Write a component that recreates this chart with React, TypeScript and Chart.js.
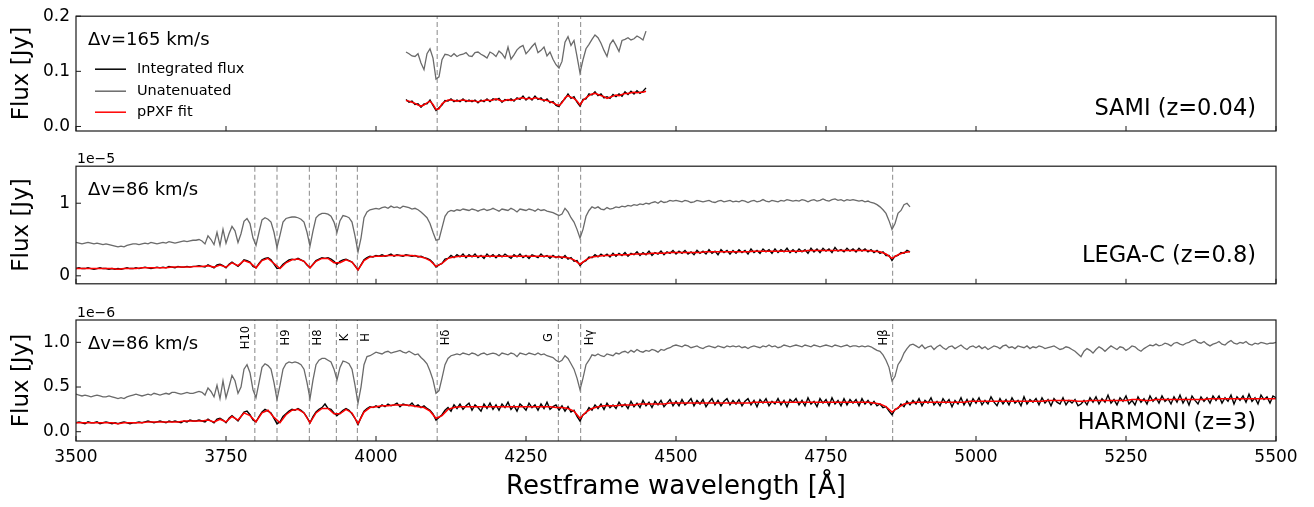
import React, { useEffect, useRef } from "react";
import { Chart, registerables } from "chart.js";

Chart.register(...registerables);

const FONT = "'DejaVu Sans', 'Liberation Sans', sans-serif";

// ---------- shared axis ----------
const X_MIN = 3500;
const X_MAX = 5500;
const X_TICKS = [3500, 3750, 4000, 4250, 4500, 4750, 5000, 5250, 5500];
const X_TITLE = "Restframe wavelength [Å]";
const Y_TITLE = "Flux [Jy]";

// ---------- spectral features (Å) ----------
const SAMI_FEATURES = [4102, 4304, 4341];
const FEATURES = [3798, 3835, 3889, 3934, 3969, 4102, 4304, 4341, 4861];
const FEATURE_NAMES = ["H10", "H9", "H8", "K", "H", "Hδ", "G", "Hγ", "Hβ"];

const LEGEND_LABELS = ["Integrated flux", "Unatenuated", "pPXF fit"];

// ---------- SAMI (z=0.04), Jy, 5 Å sampling from 4050 Å ----------
const SAMI_START = 4050;
const SAMI_STEP = 5;
const samiUnattenuated = [
  0.135, 0.132, 0.128, 0.127, 0.132, 0.115, 0.103, 0.132, 0.141, 0.124, 0.086, 0.090, 0.121, 0.131, 0.130, 0.127, 0.132, 0.127, 0.130, 0.131,
  0.134, 0.128, 0.127, 0.134, 0.135, 0.131, 0.128, 0.124, 0.135, 0.132, 0.127, 0.137, 0.132, 0.124, 0.144, 0.122, 0.130, 0.139, 0.144, 0.147,
  0.132, 0.138, 0.145, 0.151, 0.134, 0.138, 0.144, 0.128, 0.135, 0.122, 0.112, 0.106, 0.118, 0.153, 0.163, 0.147, 0.156, 0.127, 0.097, 0.121,
  0.141, 0.149, 0.158, 0.166, 0.161, 0.151, 0.138, 0.127, 0.149, 0.157, 0.147, 0.136, 0.156, 0.158, 0.161, 0.157, 0.159, 0.164, 0.161, 0.157,
  0.173,
];
const samiFlux = [
  0.049, 0.044, 0.046, 0.040, 0.041, 0.035, 0.041, 0.041, 0.048, 0.038, 0.029, 0.034, 0.039, 0.047, 0.046, 0.050, 0.045, 0.048, 0.045, 0.050,
  0.045, 0.048, 0.045, 0.048, 0.043, 0.048, 0.045, 0.050, 0.045, 0.050, 0.048, 0.051, 0.044, 0.049, 0.047, 0.050, 0.046, 0.052, 0.049, 0.055,
  0.048, 0.053, 0.048, 0.055, 0.049, 0.052, 0.046, 0.050, 0.043, 0.045, 0.038, 0.036, 0.045, 0.050, 0.059, 0.051, 0.054, 0.044, 0.037, 0.049,
  0.050, 0.059, 0.057, 0.063, 0.056, 0.059, 0.052, 0.054, 0.051, 0.058, 0.054, 0.059, 0.055, 0.063, 0.058, 0.064, 0.059, 0.065, 0.060, 0.064,
  0.070,
];
const samiFit = [
  0.047, 0.046, 0.044, 0.042, 0.039, 0.037, 0.039, 0.043, 0.046, 0.040, 0.031, 0.032, 0.041, 0.045, 0.048, 0.048, 0.047, 0.046, 0.047, 0.048,
  0.047, 0.046, 0.047, 0.046, 0.045, 0.046, 0.047, 0.048, 0.047, 0.048, 0.050, 0.048, 0.046, 0.047, 0.049, 0.047, 0.048, 0.050, 0.051, 0.052,
  0.050, 0.051, 0.050, 0.052, 0.051, 0.049, 0.048, 0.047, 0.045, 0.043, 0.040, 0.038, 0.043, 0.052, 0.056, 0.053, 0.051, 0.046, 0.039, 0.047,
  0.052, 0.056, 0.059, 0.060, 0.058, 0.056, 0.054, 0.051, 0.053, 0.055, 0.057, 0.056, 0.058, 0.060, 0.060, 0.061, 0.062, 0.061, 0.062, 0.062,
  0.064,
];
const SAMI_YTICKS = [0, 0.1, 0.2];

// ---------- LEGA-C (z=0.8), 1e-5 Jy ----------
const LEGAC_START = 3500;
const LEGAC_STEP = 5;
const LEGAC_FIT_STEP = 10;
const legacUnattenuated = [
  0.46, 0.45, 0.44, 0.45, 0.46, 0.45, 0.44, 0.45, 0.44, 0.43, 0.44, 0.43, 0.42, 0.41, 0.40, 0.41, 0.40, 0.42, 0.43, 0.44,
  0.44, 0.43, 0.44, 0.45, 0.44, 0.46, 0.45, 0.44, 0.45, 0.46, 0.45, 0.47, 0.46, 0.45, 0.46, 0.47, 0.48, 0.47, 0.48, 0.49,
  0.49, 0.50, 0.48, 0.44, 0.55, 0.50, 0.43, 0.60, 0.42, 0.64, 0.45, 0.58, 0.68, 0.62, 0.46, 0.58, 0.75, 0.79, 0.72, 0.52,
  0.42, 0.60, 0.77, 0.80, 0.78, 0.74, 0.60, 0.39, 0.56, 0.74, 0.79, 0.80, 0.81, 0.81, 0.80, 0.78, 0.74, 0.60, 0.41, 0.62,
  0.80, 0.84, 0.86, 0.86, 0.85, 0.82, 0.74, 0.60, 0.76, 0.83, 0.82, 0.80, 0.74, 0.55, 0.33, 0.52, 0.80, 0.88, 0.91, 0.92,
  0.93, 0.92, 0.94, 0.95, 0.93, 0.96, 0.94, 0.95, 0.93, 0.96, 0.95, 0.94, 0.92, 0.93, 0.91, 0.88, 0.84, 0.80, 0.72, 0.60,
  0.49, 0.50, 0.66, 0.82, 0.88, 0.90, 0.89, 0.91, 0.90, 0.92, 0.91, 0.90, 0.92, 0.91, 0.89, 0.91, 0.92, 0.90, 0.91, 0.93,
  0.91, 0.89, 0.92, 0.91, 0.90, 0.93, 0.91, 0.88, 0.92, 0.91, 0.90, 0.92, 0.91, 0.89, 0.92, 0.90, 0.91, 0.89, 0.88, 0.87,
  0.85, 0.83, 0.85, 0.93, 0.88, 0.80, 0.74, 0.64, 0.52, 0.64, 0.82, 0.90, 0.95, 0.93, 0.95, 0.92, 0.91, 0.94, 0.92, 0.93,
  0.95, 0.94, 0.96, 0.95, 0.97, 0.96, 0.98, 0.97, 0.99, 0.98, 1.00, 0.99, 1.01, 1.02, 1.00, 1.03, 1.01, 1.02, 1.04, 1.03,
  1.04, 1.03, 1.02, 1.04, 1.03, 1.01, 1.02, 1.04, 1.03, 1.02, 1.03, 1.04, 1.02, 1.01, 1.03, 1.04, 1.02, 1.03, 1.04, 1.02,
  1.03, 1.02, 1.04, 1.03, 1.01, 1.03, 1.04, 1.02, 1.03, 1.05, 1.03, 1.02, 1.04, 1.03, 1.02, 1.04, 1.03, 1.05, 1.04, 1.03,
  1.04, 1.03, 1.05, 1.04, 1.02, 1.04, 1.05, 1.03, 1.04, 1.06, 1.04, 1.03, 1.05, 1.06, 1.04, 1.05, 1.03, 1.05, 1.04, 1.05,
  1.04, 1.03, 1.04, 1.02, 1.03, 1.01, 1.00, 0.98, 0.95, 0.91, 0.86, 0.76, 0.64, 0.72, 0.86, 0.90, 0.98, 1.00, 0.95,
];
const legacFlux = [
  0.10, 0.11, 0.10, 0.10, 0.11, 0.10, 0.09, 0.10, 0.11, 0.10, 0.10, 0.09, 0.10, 0.09, 0.10, 0.09, 0.10, 0.11, 0.10, 0.10,
  0.11, 0.10, 0.11, 0.12, 0.11, 0.10, 0.11, 0.12, 0.11, 0.12, 0.11, 0.13, 0.12, 0.11, 0.13, 0.12, 0.12, 0.13, 0.12, 0.13,
  0.13, 0.14, 0.13, 0.12, 0.15, 0.13, 0.11, 0.15, 0.16, 0.14, 0.11, 0.16, 0.19, 0.16, 0.13, 0.17, 0.22, 0.21, 0.19, 0.13,
  0.11, 0.17, 0.22, 0.24, 0.25, 0.22, 0.16, 0.10, 0.11, 0.16, 0.19, 0.22, 0.23, 0.22, 0.24, 0.22, 0.20, 0.15, 0.11, 0.16,
  0.21, 0.23, 0.25, 0.24, 0.25, 0.23, 0.20, 0.16, 0.20, 0.22, 0.23, 0.21, 0.19, 0.14, 0.08, 0.15, 0.22, 0.25, 0.27, 0.26,
  0.28, 0.27, 0.29, 0.27, 0.28, 0.30, 0.27, 0.29, 0.28, 0.27, 0.29, 0.28, 0.27, 0.28, 0.26, 0.27, 0.25, 0.24, 0.22, 0.18,
  0.12, 0.15, 0.17, 0.23, 0.24, 0.28, 0.25, 0.29, 0.26, 0.30, 0.25, 0.29, 0.26, 0.30, 0.25, 0.28, 0.24, 0.30, 0.26, 0.29,
  0.25, 0.29, 0.26, 0.30, 0.27, 0.24, 0.29, 0.26, 0.30, 0.25, 0.28, 0.24, 0.29, 0.27, 0.25, 0.30, 0.26, 0.28, 0.24, 0.28,
  0.25, 0.27, 0.24, 0.28, 0.23, 0.25, 0.20, 0.21, 0.14, 0.19, 0.21, 0.26, 0.25, 0.29, 0.26, 0.30, 0.27, 0.30, 0.26, 0.31,
  0.27, 0.31, 0.28, 0.32, 0.27, 0.31, 0.29, 0.33, 0.28, 0.32, 0.29, 0.34, 0.28, 0.32, 0.30, 0.34, 0.29, 0.33, 0.31, 0.35,
  0.30, 0.34, 0.31, 0.35, 0.30, 0.33, 0.29, 0.35, 0.31, 0.34, 0.30, 0.36, 0.31, 0.34, 0.29, 0.36, 0.32, 0.35, 0.30, 0.35,
  0.31, 0.36, 0.32, 0.35, 0.30, 0.37, 0.32, 0.35, 0.31, 0.37, 0.33, 0.36, 0.31, 0.37, 0.32, 0.36, 0.33, 0.38, 0.32, 0.36,
  0.32, 0.37, 0.33, 0.36, 0.31, 0.38, 0.33, 0.37, 0.32, 0.38, 0.34, 0.37, 0.32, 0.39, 0.34, 0.36, 0.33, 0.38, 0.34, 0.37,
  0.33, 0.38, 0.34, 0.37, 0.33, 0.36, 0.32, 0.35, 0.31, 0.33, 0.28, 0.28, 0.21, 0.27, 0.28, 0.32, 0.31, 0.35, 0.33,
];
const legacFit = [
  0.10, 0.10, 0.10, 0.10, 0.10, 0.10, 0.10, 0.09, 0.10, 0.10,
  0.10, 0.11, 0.11, 0.11, 0.11, 0.11, 0.12, 0.12, 0.12, 0.12,
  0.13, 0.13, 0.14, 0.12, 0.15, 0.12, 0.18, 0.14, 0.21, 0.18,
  0.11, 0.21, 0.24, 0.17, 0.10, 0.18, 0.22, 0.23, 0.20, 0.11,
  0.20, 0.24, 0.24, 0.18, 0.18, 0.22, 0.19, 0.08, 0.21, 0.26,
  0.27, 0.27, 0.28, 0.28, 0.28, 0.28, 0.28, 0.27, 0.25, 0.21,
  0.13, 0.17, 0.24, 0.26, 0.27, 0.27, 0.27, 0.27, 0.27, 0.27,
  0.27, 0.27, 0.27, 0.27, 0.27, 0.27, 0.27, 0.27, 0.27, 0.27,
  0.26, 0.26, 0.25, 0.22, 0.16, 0.22, 0.26, 0.27, 0.28, 0.28,
  0.29, 0.29, 0.29, 0.30, 0.30, 0.30, 0.31, 0.31, 0.31, 0.32,
  0.32, 0.32, 0.32, 0.32, 0.32, 0.33, 0.33, 0.33, 0.33, 0.33,
  0.33, 0.33, 0.33, 0.34, 0.34, 0.34, 0.34, 0.34, 0.34, 0.34,
  0.34, 0.34, 0.35, 0.35, 0.35, 0.35, 0.35, 0.35, 0.35, 0.35,
  0.35, 0.35, 0.35, 0.34, 0.33, 0.30, 0.24, 0.29, 0.32, 0.33,
];
const LEGAC_YTICKS = [0, 1];

// ---------- HARMONI (z=3), 1e-6 Jy ----------
const HARM_START = 3500;
const HARM_STEP = 5;
const HARM_FIT_STEP = 10;
const harmUnattenuated = [
  0.42, 0.41, 0.40, 0.41, 0.40, 0.39, 0.40, 0.41, 0.40, 0.39, 0.39, 0.40, 0.39, 0.38, 0.37, 0.38, 0.37, 0.39, 0.40, 0.41,
  0.42, 0.41, 0.40, 0.41, 0.42, 0.41, 0.43, 0.42, 0.41, 0.42, 0.43, 0.42, 0.44, 0.44, 0.43, 0.42, 0.43, 0.44, 0.43, 0.43,
  0.44, 0.45, 0.44, 0.41, 0.49, 0.45, 0.39, 0.52, 0.37, 0.57, 0.38, 0.50, 0.63, 0.57, 0.43, 0.50, 0.70, 0.75, 0.66, 0.47,
  0.38, 0.55, 0.72, 0.76, 0.74, 0.70, 0.55, 0.36, 0.52, 0.70, 0.76, 0.78, 0.77, 0.78, 0.77, 0.75, 0.70, 0.55, 0.37, 0.58,
  0.75, 0.80, 0.82, 0.82, 0.80, 0.78, 0.70, 0.58, 0.72, 0.79, 0.78, 0.76, 0.70, 0.52, 0.32, 0.50, 0.75, 0.84, 0.85, 0.87,
  0.89, 0.88, 0.87, 0.89, 0.90, 0.88, 0.89, 0.90, 0.91, 0.89, 0.88, 0.90, 0.88, 0.86, 0.87, 0.83, 0.80, 0.76, 0.68, 0.58,
  0.43, 0.46, 0.60, 0.75, 0.82, 0.85, 0.86, 0.87, 0.86, 0.88, 0.87, 0.86, 0.88, 0.87, 0.85, 0.87, 0.88, 0.86, 0.87, 0.88,
  0.87, 0.85, 0.88, 0.87, 0.86, 0.88, 0.87, 0.84, 0.88, 0.87, 0.86, 0.88, 0.87, 0.86, 0.88, 0.86, 0.87, 0.85, 0.84, 0.83,
  0.80, 0.78, 0.80, 0.85, 0.82, 0.76, 0.70, 0.60, 0.47, 0.60, 0.75, 0.80, 0.86, 0.85, 0.87, 0.85, 0.84, 0.87, 0.86, 0.85,
  0.88, 0.87, 0.89, 0.90, 0.88, 0.91, 0.89, 0.92, 0.90, 0.89, 0.91, 0.90, 0.92, 0.91, 0.89, 0.92, 0.91, 0.93, 0.94, 0.96,
  0.97, 0.96, 0.95, 0.97, 0.96, 0.94, 0.95, 0.96, 0.94, 0.93, 0.95, 0.96, 0.95, 0.94, 0.96, 0.95, 0.94, 0.96, 0.95, 0.96,
  0.95, 0.96, 0.94, 0.95, 0.93, 0.95, 0.96, 0.95, 0.94, 0.96, 0.95, 0.97, 0.95, 0.96, 0.94, 0.95, 0.97, 0.96, 0.95, 0.96,
  0.97, 0.96, 0.95, 0.97, 0.96, 0.95, 0.97, 0.96, 0.95, 0.96, 0.97, 0.96, 0.95, 0.97, 0.96, 0.95, 0.96, 0.97, 0.95, 0.96,
  0.96, 0.95, 0.96, 0.95, 0.96, 0.95, 0.93, 0.91, 0.90, 0.86, 0.80, 0.72, 0.57, 0.62, 0.75, 0.80, 0.88, 0.93, 0.97, 0.98,
  0.96, 0.94, 0.97, 0.93, 0.95, 0.96, 0.92, 0.95, 0.97, 0.94, 0.92, 0.95, 0.96, 0.93, 0.95, 0.97, 0.94, 0.92, 0.95, 0.96,
  0.94, 0.96, 0.93, 0.95, 0.92, 0.94, 0.96, 0.95, 0.93, 0.96, 0.97, 0.94, 0.95, 0.93, 0.96, 0.95, 0.94, 0.96, 0.93, 0.95,
  0.94, 0.96, 0.95, 0.93, 0.94, 0.95, 0.96, 0.94, 0.92, 0.93, 0.95, 0.94, 0.92, 0.90, 0.87, 0.84, 0.90, 0.93, 0.91, 0.88,
  0.92, 0.95, 0.93, 0.90, 0.93, 0.96, 0.94, 0.92, 0.95, 0.94, 0.91, 0.93, 0.96, 0.95, 0.92, 0.90, 0.93, 0.95, 0.97, 0.96,
  0.98, 0.96, 0.97, 0.99, 0.98, 0.96, 0.99, 1.00, 0.98, 0.97, 0.99, 1.00, 1.02, 1.03, 1.00, 0.99, 1.01, 0.98, 0.96, 0.98,
  0.99, 1.01, 0.98, 0.97, 1.00, 1.02, 0.99, 0.98, 1.00, 0.99, 1.01, 0.98, 0.97, 0.99, 0.98, 1.00, 0.99, 0.98, 0.99, 0.99,
  1.00,
];
const harmFlux = [
  0.10, 0.11, 0.10, 0.09, 0.11, 0.10, 0.10, 0.11, 0.09, 0.10, 0.11, 0.10, 0.09, 0.10, 0.09, 0.10, 0.11, 0.10, 0.09, 0.10,
  0.10, 0.11, 0.10, 0.11, 0.12, 0.11, 0.10, 0.11, 0.12, 0.11, 0.10, 0.12, 0.11, 0.12, 0.11, 0.10, 0.12, 0.11, 0.13, 0.12,
  0.12, 0.13, 0.12, 0.11, 0.14, 0.12, 0.10, 0.14, 0.15, 0.13, 0.10, 0.15, 0.18, 0.15, 0.12, 0.17, 0.22, 0.23, 0.19, 0.13,
  0.11, 0.17, 0.22, 0.25, 0.23, 0.21, 0.15, 0.09, 0.11, 0.17, 0.20, 0.23, 0.25, 0.24, 0.26, 0.24, 0.21, 0.16, 0.10, 0.17,
  0.22, 0.25, 0.27, 0.31, 0.26, 0.25, 0.21, 0.18, 0.21, 0.24, 0.26, 0.24, 0.20, 0.15, 0.08, 0.16, 0.23, 0.26, 0.28, 0.27,
  0.29, 0.27, 0.30, 0.28, 0.31, 0.29, 0.30, 0.32, 0.28, 0.31, 0.30, 0.29, 0.32, 0.28, 0.30, 0.27, 0.29, 0.26, 0.24, 0.20,
  0.13, 0.16, 0.19, 0.24, 0.27, 0.23, 0.30, 0.26, 0.31, 0.25, 0.29, 0.32, 0.24, 0.30, 0.27, 0.23, 0.31, 0.26, 0.32, 0.25,
  0.30, 0.24, 0.31, 0.27, 0.33, 0.25, 0.29, 0.23, 0.31, 0.28, 0.24, 0.32, 0.27, 0.30, 0.24, 0.31, 0.26, 0.33, 0.25, 0.28,
  0.30, 0.24, 0.29, 0.23, 0.28, 0.22, 0.24, 0.17, 0.12, 0.19, 0.21, 0.27, 0.24, 0.30, 0.26, 0.31, 0.25, 0.32, 0.27, 0.30,
  0.26, 0.33, 0.28, 0.31, 0.26, 0.34, 0.28, 0.32, 0.27, 0.35, 0.29, 0.33, 0.27, 0.34, 0.30, 0.35, 0.28, 0.32, 0.36, 0.29,
  0.34, 0.29, 0.36, 0.30, 0.33, 0.37, 0.29, 0.35, 0.31, 0.36, 0.28, 0.33, 0.37, 0.30, 0.35, 0.29, 0.34, 0.37, 0.30, 0.35,
  0.31, 0.36, 0.29, 0.34, 0.37, 0.30, 0.35, 0.28, 0.36, 0.32, 0.37, 0.29, 0.34, 0.31, 0.37, 0.30, 0.35, 0.28, 0.36, 0.33,
  0.37, 0.30, 0.35, 0.29, 0.38, 0.31, 0.34, 0.28, 0.37, 0.32, 0.36, 0.29, 0.38, 0.31, 0.35, 0.29, 0.37, 0.30, 0.36, 0.32,
  0.36, 0.29, 0.37, 0.31, 0.35, 0.30, 0.34, 0.29, 0.31, 0.27, 0.28, 0.23, 0.19, 0.25, 0.26, 0.31, 0.28, 0.34, 0.30, 0.35,
  0.31, 0.37, 0.29, 0.35, 0.32, 0.38, 0.30, 0.34, 0.29, 0.37, 0.32, 0.36, 0.28, 0.35, 0.31, 0.38, 0.30, 0.36, 0.29, 0.37,
  0.32, 0.38, 0.30, 0.35, 0.31, 0.39, 0.33, 0.29, 0.37, 0.31, 0.36, 0.30, 0.38, 0.32, 0.35, 0.29, 0.39, 0.31, 0.36, 0.33,
  0.37, 0.30, 0.38, 0.32, 0.36, 0.29, 0.37, 0.33, 0.31, 0.38, 0.30, 0.35, 0.32, 0.36, 0.29, 0.31, 0.35, 0.30, 0.38, 0.33,
  0.39, 0.31, 0.37, 0.33, 0.41, 0.32, 0.36, 0.30, 0.38, 0.34, 0.40, 0.31, 0.35, 0.30, 0.39, 0.33, 0.37, 0.31, 0.40, 0.34,
  0.38, 0.32, 0.40, 0.34, 0.37, 0.31, 0.39, 0.33, 0.41, 0.32, 0.38, 0.30, 0.40, 0.35, 0.31, 0.39, 0.34, 0.38, 0.32, 0.40,
  0.35, 0.40, 0.32, 0.38, 0.34, 0.41, 0.31, 0.39, 0.35, 0.40, 0.33, 0.42, 0.34, 0.38, 0.31, 0.41, 0.36, 0.39, 0.32, 0.40,
  0.38,
];
const harmFit = [
  0.10, 0.10, 0.10, 0.10, 0.10, 0.10, 0.10, 0.09, 0.10, 0.10,
  0.10, 0.10, 0.11, 0.11, 0.11, 0.11, 0.11, 0.11, 0.12, 0.12,
  0.12, 0.12, 0.13, 0.11, 0.14, 0.11, 0.17, 0.13, 0.21, 0.18,
  0.11, 0.21, 0.24, 0.16, 0.10, 0.19, 0.24, 0.25, 0.21, 0.10,
  0.21, 0.26, 0.26, 0.20, 0.20, 0.25, 0.21, 0.09, 0.22, 0.27,
  0.28, 0.29, 0.29, 0.30, 0.30, 0.30, 0.29, 0.28, 0.27, 0.23,
  0.15, 0.18, 0.25, 0.27, 0.28, 0.28, 0.28, 0.28, 0.28, 0.28,
  0.28, 0.28, 0.28, 0.28, 0.28, 0.28, 0.28, 0.28, 0.28, 0.28,
  0.27, 0.27, 0.26, 0.23, 0.15, 0.22, 0.26, 0.28, 0.29, 0.29,
  0.29, 0.30, 0.30, 0.30, 0.31, 0.31, 0.31, 0.31, 0.31, 0.32,
  0.32, 0.32, 0.32, 0.32, 0.32, 0.32, 0.32, 0.32, 0.32, 0.32,
  0.32, 0.32, 0.32, 0.33, 0.33, 0.33, 0.33, 0.33, 0.33, 0.33,
  0.33, 0.33, 0.33, 0.33, 0.33, 0.33, 0.33, 0.33, 0.33, 0.33,
  0.33, 0.33, 0.33, 0.32, 0.31, 0.28, 0.22, 0.27, 0.31, 0.32,
  0.33, 0.33, 0.33, 0.33, 0.33, 0.33, 0.33, 0.33, 0.33, 0.34,
  0.34, 0.34, 0.34, 0.34, 0.34, 0.34, 0.34, 0.34, 0.34, 0.34,
  0.34, 0.34, 0.35, 0.35, 0.35, 0.35, 0.35, 0.34, 0.34, 0.35,
  0.35, 0.35, 0.35, 0.35, 0.35, 0.35, 0.36, 0.36, 0.35, 0.35,
  0.36, 0.36, 0.36, 0.36, 0.36, 0.36, 0.36, 0.36, 0.36, 0.37,
  0.37, 0.37, 0.37, 0.37, 0.37, 0.37, 0.37, 0.37, 0.37, 0.37,
  0.37,
];
const HARM_YTICKS = [0, 0.5, 1.0];

// ---------- helpers ----------
const pts = (start: number, step: number, vals: number[]) =>
  vals.map((y, i) => ({ x: start + i * step, y }));

const vlinePts = (lines: number[], lo: number, hi: number) =>
  lines.flatMap((w) => [
    { x: w, y: lo },
    { x: w, y: hi },
    { x: w, y: null as any },
  ]);

const COLOR_FLUX = "#000000";
const COLOR_UNATT = "#6a6a6a";
const COLOR_FIT = "#ff0000";
const COLOR_DASH = "#9c9c9c";

type PanelSpec = {
  top: number;
  height: number;
  padTop: number;
  padBottom: number;
  showX: boolean;
  yMin: number;
  yMax: number;
  yTicks: number[];
  yDigits: number;
  start: number;
  step: number;
  fitStart: number;
  fitStep: number;
  unatt: number[];
  flux: number[];
  fit: number[];
  lines: number[];
  dv: string;
  label: string;
  labelRaise: number;
  offsetText?: string;
  legend?: boolean;
  lineLabels?: boolean;
};

const LABEL_SIDE = [-1, 1, 1, 1, 1, 1, -1, 1, -1];

function makeDecor(p: PanelSpec) {
  return {
    id: "decor",
    afterDraw(chart: any) {
      const ctx: CanvasRenderingContext2D = chart.ctx;
      const a = chart.chartArea;
      const xs = chart.scales.x;
      const ys = chart.scales.y;
      ctx.save();
      // frame
      ctx.strokeStyle = "#1a1a1a";
      ctx.lineWidth = 1.2;
      ctx.strokeRect(a.left, a.top, a.right - a.left, a.bottom - a.top);
      // inward ticks
      ctx.lineWidth = 1;
      ctx.beginPath();
      X_TICKS.forEach((v) => {
        const x = xs.getPixelForValue(v);
        ctx.moveTo(x, a.bottom);
        ctx.lineTo(x, a.bottom - 5);
      });
      p.yTicks.forEach((v) => {
        const y = ys.getPixelForValue(v);
        ctx.moveTo(a.left, y);
        ctx.lineTo(a.left + 5, y);
      });
      ctx.stroke();

      ctx.fillStyle = "#000";
      // delta v
      ctx.font = `18px ${FONT}`;
      ctx.textAlign = "left";
      ctx.textBaseline = "middle";
      ctx.fillText(p.dv, a.left + 12, a.top + 24);

      // panel label
      ctx.font = `22.5px ${FONT}`;
      ctx.textAlign = "right";
      ctx.textBaseline = "alphabetic";
      ctx.fillText(p.label, a.right - 20, a.bottom - p.labelRaise);

      // offset text
      if (p.offsetText) {
        ctx.font = `14px ${FONT}`;
        ctx.textAlign = "left";
        ctx.textBaseline = "alphabetic";
        ctx.fillText(p.offsetText, a.left + 1, a.top - 3);
      }

      // legend
      if (p.legend) {
        const colors = [COLOR_FLUX, COLOR_UNATT, COLOR_FIT];
        const rows = [a.top + 53, a.top + 75, a.top + 96];
        ctx.font = `14.5px ${FONT}`;
        ctx.textAlign = "left";
        ctx.textBaseline = "middle";
        LEGEND_LABELS.forEach((lab, i) => {
          ctx.strokeStyle = colors[i];
          ctx.lineWidth = 1.5;
          ctx.beginPath();
          ctx.moveTo(a.left + 19, rows[i]);
          ctx.lineTo(a.left + 50, rows[i]);
          ctx.stroke();
          ctx.fillStyle = "#000";
          ctx.fillText(lab, a.left + 61, rows[i]);
        });
      }

      // feature labels
      if (p.lineLabels) {
        ctx.font = `11.5px ${FONT}`;
        ctx.textAlign = "center";
        ctx.textBaseline = "middle";
        ctx.fillStyle = "#000";
        FEATURES.forEach((w, i) => {
          const x = xs.getPixelForValue(w) + LABEL_SIDE[i] * 9;
          ctx.save();
          ctx.translate(x, a.top + 17.5);
          ctx.rotate(-Math.PI / 2);
          ctx.fillText(FEATURE_NAMES[i], 0, 0);
          ctx.restore();
        });
      }
      ctx.restore();
    },
  };
}

function Panel({ p }: { p: PanelSpec }) {
  const ref = useRef<HTMLCanvasElement | null>(null);
  useEffect(() => {
    if (!ref.current) return;
    const chart = new Chart(ref.current, {
      type: "line",
      data: {
        datasets: [
          {
            label: "pPXF fit",
            data: pts(p.fitStart, p.fitStep, p.fit),
            borderColor: COLOR_FIT,
            borderWidth: 1.5,
            order: 0,
          },
          {
            label: "Integrated flux",
            data: pts(p.start, p.step, p.flux),
            borderColor: COLOR_FLUX,
            borderWidth: 1.4,
            order: 1,
          },
          {
            label: "Unatenuated",
            data: pts(p.start, p.step, p.unatt),
            borderColor: COLOR_UNATT,
            borderWidth: 1.3,
            order: 2,
          },
          {
            label: "features",
            data: vlinePts(p.lines, p.yMin, p.yMax),
            borderColor: COLOR_DASH,
            borderWidth: 1.2,
            borderDash: [5, 3],
            order: 3,
          },
        ] as any,
      },
      options: {
        animation: false,
        responsive: false,
        maintainAspectRatio: false,
        events: [],
        elements: { point: { radius: 0 }, line: { tension: 0, fill: false } },
        layout: { padding: { left: 0, right: 38, top: p.padTop, bottom: p.padBottom } },
        plugins: { legend: { display: false }, tooltip: { enabled: false } },
        scales: {
          x: {
            type: "linear",
            min: X_MIN,
            max: X_MAX,
            display: p.showX,
            afterBuildTicks: (s: any) => {
              s.ticks = X_TICKS.map((v) => ({ value: v }));
            },
            afterFit: (s: any) => {
              s.height = p.showX ? 66 : 0;
            },
            grid: { display: false, drawTicks: false },
            border: { display: false },
            ticks: {
              font: { family: FONT, size: 17 },
              color: "#000",
              padding: 6,
              maxRotation: 0,
              autoSkip: false,
              callback: (v: any) => String(v),
            },
            title: {
              display: true,
              text: X_TITLE,
              font: { family: FONT, size: 26 },
              color: "#000",
              padding: { top: 0, bottom: 4 },
            },
          },
          y: {
            type: "linear",
            min: p.yMin,
            max: p.yMax,
            afterBuildTicks: (s: any) => {
              s.ticks = p.yTicks.map((v) => ({ value: v }));
            },
            afterFit: (s: any) => {
              s.width = 76;
            },
            grid: { display: false, drawTicks: false },
            border: { display: false },
            ticks: {
              font: { family: FONT, size: 17 },
              color: "#000",
              padding: 6,
              callback: (v: any) => Number(v).toFixed(p.yDigits),
            },
            title: {
              display: true,
              text: Y_TITLE,
              font: { family: FONT, size: 23 },
              color: "#000",
              padding: { top: 8, bottom: 0 },
            },
          },
        },
      } as any,
      plugins: [makeDecor(p)],
    });
    return () => chart.destroy();
  }, [p]);
  return (
    <canvas
      ref={ref}
      width={1314}
      height={p.height}
      style={{ position: "absolute", left: 0, top: p.top, width: 1314, height: p.height }}
    />
  );
}

const PANELS: PanelSpec[] = [
  {
    top: 0, height: 150, padTop: 11, padBottom: 19, showX: false,
    yMin: -0.0082, yMax: 0.2, yTicks: SAMI_YTICKS, yDigits: 1,
    start: SAMI_START, step: SAMI_STEP, fitStart: SAMI_START, fitStep: SAMI_STEP,
    unatt: samiUnattenuated, flux: samiFlux, fit: samiFit,
    lines: SAMI_FEATURES, dv: "Δv=165 km/s", label: "SAMI (z=0.04)", labelRaise: 16,
    legend: true,
  },
  {
    top: 150, height: 150, padTop: 15, padBottom: 13, showX: false,
    yMin: -0.11, yMax: 1.51, yTicks: LEGAC_YTICKS, yDigits: 0,
    start: LEGAC_START, step: LEGAC_STEP, fitStart: LEGAC_START, fitStep: LEGAC_FIT_STEP,
    unatt: legacUnattenuated, flux: legacFlux, fit: legacFit,
    lines: FEATURES, dv: "Δv=86 km/s", label: "LEGA-C (z=0.8)", labelRaise: 22,
    offsetText: "1e\u22125",
  },
  {
    top: 300, height: 207, padTop: 20, padBottom: 0, showX: true,
    yMin: -0.104, yMax: 1.25, yTicks: HARM_YTICKS, yDigits: 1,
    start: HARM_START, step: HARM_STEP, fitStart: HARM_START, fitStep: HARM_FIT_STEP,
    unatt: harmUnattenuated, flux: harmFlux, fit: harmFit,
    lines: FEATURES, dv: "Δv=86 km/s", label: "HARMONI (z=3)", labelRaise: 12,
    offsetText: "1e\u22126", lineLabels: true,
  },
];

export default function App() {
  return (
    <div style={{ position: "absolute", left: 0, top: 0, width: 1314, height: 507, background: "#fff" }}>
      {PANELS.map((p, i) => (
        <Panel key={i} p={p} />
      ))}
    </div>
  );
}
